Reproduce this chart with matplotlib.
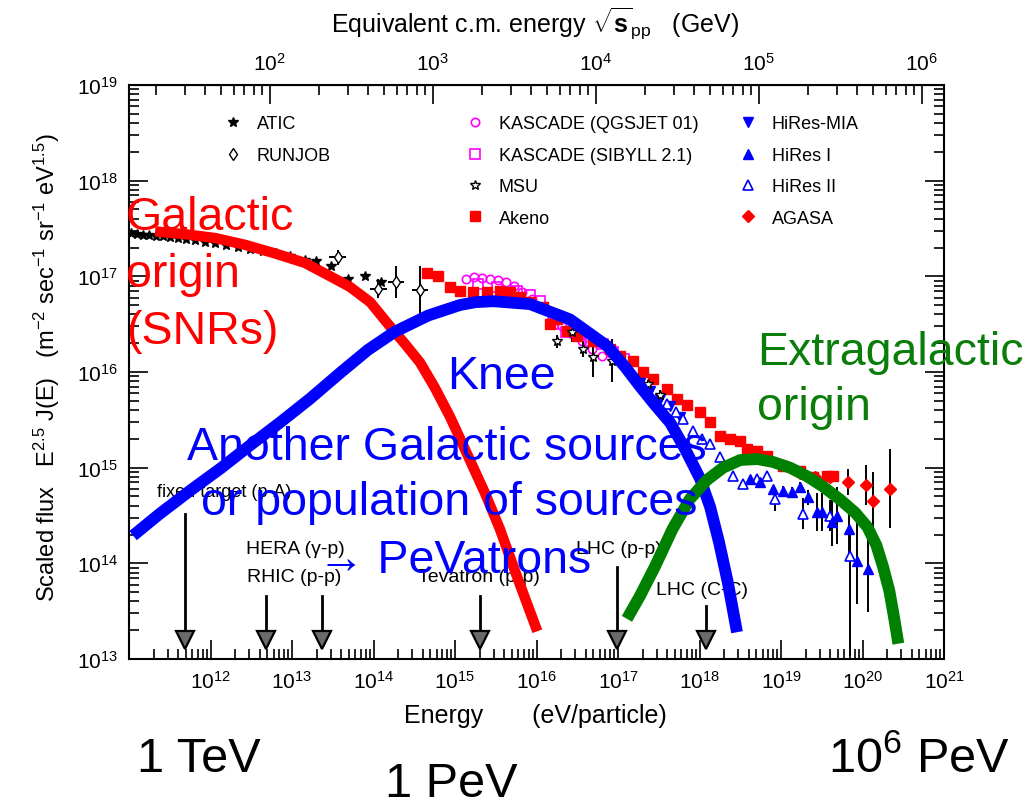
import numpy as np
import matplotlib
matplotlib.use("Agg")
import matplotlib.pyplot as plt
from matplotlib.ticker import LogLocator, NullFormatter, LogFormatterMathtext, FuncFormatter

plt.rcParams['font.family'] = ['Liberation Sans', 'DejaVu Sans']
plt.rcParams['mathtext.fontset'] = 'custom'
plt.rcParams['mathtext.rm'] = 'Liberation Sans'
plt.rcParams['mathtext.it'] = 'Liberation Sans:italic'
plt.rcParams['mathtext.bf'] = 'Liberation Sans:bold'

# Values: log10(E / eV) and log10(E^2.5 J(E))
atic_logE = [11.02, 11.10, 11.17, 11.25, 11.33, 11.42, 11.50, 11.60, 11.70, 11.81, 11.93, 12.06,
             12.19, 12.34, 12.48, 12.64, 12.80, 12.98, 13.16, 13.29, 13.48, 13.69, 13.90, 14.09]
atic_logF = [17.45, 17.44, 17.43, 17.43, 17.42, 17.42, 17.41, 17.40, 17.39, 17.38, 17.36, 17.35,
             17.33, 17.31, 17.29, 17.27, 17.24, 17.21, 17.17, 17.16, 17.11, 16.97, 17.00, 16.94]

runjob_logE = [13.56, 14.06, 14.28, 14.57]
runjob_logF = [17.20, 16.87, 16.94, 16.86]
runjob_err = [0.08, 0.10, 0.17, 0.25]

kq_logE = [15.13, 15.23, 15.33, 15.43, 15.53, 15.63, 15.72, 15.82, 15.94, 16.07, 16.19, 16.31,
           16.44, 16.56, 16.68, 16.80]
kq_logF = [16.97, 16.99, 16.98, 16.97, 16.96, 16.94, 16.90, 16.84, 16.76, 16.68, 16.58, 16.48,
           16.40, 16.32, 16.24, 16.17]

ks_logE = [15.28, 15.52, 15.76, 15.92, 16.04, 16.20, 16.36, 16.51, 16.66, 16.82, 16.94, 17.07]
ks_logF = [16.92, 16.89, 16.85, 16.80, 16.74, 16.50, 16.42, 16.38, 16.32, 16.29, 16.21, 16.14]

msu_logE = [16.25, 16.44, 16.57, 16.69, 16.93, 17.18, 17.37, 17.52]
msu_logF = [16.32, 16.42, 16.24, 16.16, 16.12, 15.96, 15.87, 15.76]
msu_err = [0.07, 0.11, 0.08, 0.21, 0.22, 0.05, 0.05, 0.05]

akeno_logE = [14.66, 14.79, 14.94, 15.06, 15.22, 15.39, 15.55, 15.67, 15.80, 15.92, 16.08, 16.17,
              16.25, 16.37, 16.50, 16.69, 16.90, 17.02, 17.18, 17.31, 17.43, 17.60, 17.72, 17.85,
              18.01, 18.13, 18.25, 18.37, 18.50, 18.58, 18.71, 18.83, 19.02, 19.23, 19.39, 19.56,
              19.64]
akeno_logF = [17.03, 17.00, 16.89, 16.85, 16.84, 16.84, 16.85, 16.84, 16.78, 16.73, 16.68, 16.50,
              16.55, 16.43, 16.38, 16.32, 16.24, 16.17, 16.11, 16.00, 15.93, 15.82, 15.72, 15.65,
              15.58, 15.48, 15.33, 15.30, 15.28, 15.20, 15.17, 15.12, 15.02, 14.97, 14.90, 14.91,
              14.91]

mia_logE = [17.27, 17.39, 17.52, 17.64, 17.76]
mia_logF = [15.88, 15.80, 15.72, 15.64, 15.53]

hr1_logE = [18.62, 18.74, 18.90, 19.02, 19.13, 19.23, 19.33, 19.44, 19.50, 19.63, 19.69, 19.83,
            19.93, 20.07]
hr1_logF = [14.88, 14.85, 14.78, 14.76, 14.75, 14.80, 14.69, 14.54, 14.54, 14.43, 14.50, 14.36,
            14.02, 13.94]
hr1_err = [0.03, 0.03, 0.03, 0.05, 0.05, 0.05, 0.08, 0.20, 0.20, 0.25, 0.30, 0.30, 0.45, 0.45]

hr2_logE = [17.60, 17.71, 17.80, 17.92, 18.03, 18.13, 18.25, 18.41, 18.53, 18.71, 18.83, 18.93,
            19.27, 19.60, 19.85]
hr2_logF = [15.67, 15.58, 15.51, 15.38, 15.30, 15.25, 15.11, 14.91, 14.83, 14.88, 14.91, 14.67,
            14.52, 14.50, 14.08]
hr2_err_lo = [0.02, 0.02, 0.02, 0.02, 0.02, 0.02, 0.03, 0.03, 0.03, 0.03, 0.04, 0.12, 0.16, 0.16, 1.05]
hr2_err_hi = [0.02, 0.02, 0.02, 0.02, 0.02, 0.02, 0.03, 0.03, 0.03, 0.03, 0.04, 0.12, 0.16, 0.16, 0.31]

agasa_logE = [19.23, 19.42, 19.60, 19.82, 20.04, 20.13, 20.34]
agasa_logF = [14.94, 14.90, 14.90, 14.85, 14.82, 14.65, 14.78]
agasa_err = [0.03, 0.03, 0.03, 0.14, 0.21, 0.30, 0.41]

# hand drawn components
gal_logE = [11.32, 11.69, 12.06, 12.42, 12.79, 13.16, 13.47, 13.71, 13.96, 14.18, 14.39, 14.57,
            14.75, 14.94, 15.15, 15.37, 15.55, 15.77, 16.01]
gal_logF = [17.47, 17.44, 17.40, 17.33, 17.24, 17.14, 17.00, 16.89, 16.73, 16.50, 16.29, 16.10,
            15.84, 15.53, 15.14, 14.73, 14.36, 13.84, 13.29]

knee_logE = [11.05, 11.38, 11.75, 12.12, 12.48, 12.85, 13.22, 13.59, 13.93, 14.26, 14.67, 15.06,
             15.25, 15.47, 15.92, 16.41, 16.87, 17.09, 17.27, 17.45, 17.64, 17.82, 18.01, 18.13,
             18.24, 18.35, 18.46]
knee_logF = [14.29, 14.52, 14.76, 14.99, 15.23, 15.47, 15.72, 15.99, 16.23, 16.42, 16.59, 16.70,
             16.73, 16.74, 16.71, 16.55, 16.27, 16.05, 15.85, 15.66, 15.47, 15.20, 14.88, 14.59,
             14.22, 13.79, 13.28]

xgal_logE = [17.11, 17.27, 17.45, 17.67, 17.88, 18.09, 18.29, 18.50, 18.71, 18.90, 19.11, 19.32,
             19.52, 19.72, 19.91, 20.06, 20.17, 20.25, 20.33, 20.39, 20.44]
xgal_logF = [13.42, 13.66, 13.96, 14.36, 14.67, 14.87, 15.00, 15.08, 15.09, 15.06, 15.00, 14.91,
             14.80, 14.67, 14.53, 14.38, 14.19, 13.97, 13.71, 13.42, 13.16]

# accelerators
acc_names = ['fixed target (p-A)', 'HERA (\u03b3-p)', 'RHIC (p-p)', 'Tevatron (p-p)', 'LHC (p-p)', 'LHC (C-C)']
acc_logE = [11.69, 12.68, 13.37, 15.31, 16.99, 18.08]
acc_top = [14.52, 13.66, 13.66, 13.66, 13.96, 13.55]


def p(v):
    return 10 ** np.asarray(v, dtype=float)


def yerr(logF, lo, hi=None):
    if hi is None:
        hi = lo
    logF = np.asarray(logF, dtype=float)
    F = 10 ** logF
    return [F - 10 ** (logF - np.asarray(lo)), 10 ** (logF + np.asarray(hi)) - F]


W, H = 1035, 803
fig = plt.figure(figsize=(W / 100, H / 100), dpi=100)
ax = fig.add_axes([129 / W, 1 - 660 / H, 815 / W, 574 / H])
ax.set_xscale('log')
ax.set_yscale('log')

ebar = dict(ls='none', ecolor='black', elinewidth=1.4, capsize=0)

atic, = ax.plot(p(atic_logE), p(atic_logF), '*', color='black', ms=7, label='ATIC')
rj = ax.errorbar(p(runjob_logE), p(runjob_logF), yerr=yerr(runjob_logF, runjob_err),
                 xerr=yerr(runjob_logE, 0.1), marker='d', mfc='white', mec='black', ms=6, **ebar)
kq, = ax.plot(p(kq_logE), p(kq_logF), 'o', mfc='none', mec='#ff00ff', ms=6, mew=1.2)
ks, = ax.plot(p(ks_logE), p(ks_logF), 's', mfc='none', mec='#ff00ff', ms=7, mew=1.2)
msu = ax.errorbar(p(msu_logE), p(msu_logF), yerr=yerr(msu_logF, msu_err), marker='*',
                  mfc='white', mec='black', ms=7, **ebar)
ak, = ax.plot(p(akeno_logE), p(akeno_logF), 's', color='#ff0000', ms=7)
mia, = ax.plot(p(mia_logE), p(mia_logF), 'v', color='#0000ff', ms=7)
hr2 = ax.errorbar(p(hr2_logE), p(hr2_logF), yerr=yerr(hr2_logF, hr2_err_lo, hr2_err_hi), marker='^',
                  mfc='white', mec='#0000ff', ms=7, mew=1.2, **ebar)
hr1 = ax.errorbar(p(hr1_logE), p(hr1_logF), yerr=yerr(hr1_logF, hr1_err), marker='^',
                  color='#0000ff', ms=7, **ebar)
ag = ax.errorbar(p(agasa_logE), p(agasa_logF), yerr=yerr(agasa_logF, agasa_err), marker='D',
                 color='#ff0000', ms=6, **ebar)

# accelerator arrows
for name, e, t in zip(acc_names, acc_logE, acc_top):
    ax.plot([10 ** e, 10 ** e], [10 ** t, 10 ** 13.24], color='black', lw=2)
    ax.plot(10 ** e, 10 ** 13.2, marker='v', ms=13, mfc='#6a6a6a', mec='black', mew=1.6)

ax.text(10 ** 11.34, 10 ** 14.75, acc_names[0], fontsize=13, va='center')
ax.text(10 ** 12.44, 10 ** 14.15, acc_names[1], fontsize=14, va='center')
ax.text(10 ** 12.45, 10 ** 13.86, acc_names[2], fontsize=14, va='center')
ax.text(10 ** 14.55, 10 ** 13.86, acc_names[3], fontsize=14, va='center')
ax.text(10 ** 16.48, 10 ** 14.15, acc_names[4], fontsize=14, va='center')
ax.text(10 ** 17.47, 10 ** 13.73, acc_names[5], fontsize=14, va='center')

# thick component curves
curve_kw = dict(solid_capstyle='butt', solid_joinstyle='round', zorder=5)
ax.plot(p(gal_logE), p(gal_logF), color='#ff0000', lw=7.5, **curve_kw)
ax.plot(p(knee_logE), p(knee_logF), color='#0000ff', lw=8.5, **curve_kw)
ax.plot(p(xgal_logE), p(xgal_logF), color='#008000', lw=8.5, **curve_kw)

ax.set_xlim(1e11, 1e21)
ax.set_ylim(1e13, 1e19)

for axis in (ax.xaxis, ax.yaxis):
    axis.set_major_locator(LogLocator(base=10, numticks=30))
    axis.set_minor_locator(LogLocator(base=10, subs=np.arange(2, 10), numticks=300))
    axis.set_minor_formatter(NullFormatter())

base_fmt = LogFormatterMathtext()
ax.xaxis.set_major_formatter(FuncFormatter(lambda v, pos: '' if v < 5e11 else base_fmt(v, pos)))

ax.tick_params(which='both', direction='in', top=False, right=True, labelsize=15, width=1.2)
ax.tick_params(which='major', length=14, pad=8)
ax.tick_params(which='minor', length=7)
for s in ax.spines.values():
    s.set_linewidth(1.5)

# equivalent centre-of-mass energy on top
m_p = 0.938


def e_to_sqrts(E):
    return np.sqrt(2 * m_p * np.clip(E, 1e-30, None) / 1e9)


def sqrts_to_e(s):
    return np.asarray(s) ** 2 / (2 * m_p) * 1e9


sec = ax.secondary_xaxis('top', functions=(e_to_sqrts, sqrts_to_e))
sec.xaxis.set_major_locator(LogLocator(base=10, numticks=30))
sec.xaxis.set_minor_locator(LogLocator(base=10, subs=np.arange(2, 10), numticks=300))
sec.xaxis.set_minor_formatter(NullFormatter())
sec.tick_params(which='both', direction='in', labelsize=15, width=1.2)
sec.tick_params(which='major', length=14, pad=8)
sec.tick_params(which='minor', length=7)

# legends
leg_kw = dict(frameon=False, fontsize=13, handlelength=1.0, handletextpad=0.8,
              labelspacing=0.8, borderaxespad=0, loc='upper left', borderpad=0)
leg1 = ax.legend([atic, rj[0]], ['ATIC', 'RUNJOB'], bbox_to_anchor=(0.117, 0.947), **leg_kw)
ax.add_artist(leg1)
leg2 = ax.legend([kq, ks, msu[0], ak], ['KASCADE (QGSJET 01)', 'KASCADE (SIBYLL 2.1)', 'MSU', 'Akeno'],
                 bbox_to_anchor=(0.414, 0.947), **leg_kw)
ax.add_artist(leg2)
ax.legend([mia, hr1[0], hr2[0], ag[0]], ['HiRes-MIA', 'HiRes I', 'HiRes II', 'AGASA'],
          bbox_to_anchor=(0.749, 0.947), **leg_kw)


def px(x, y):
    return x / W, 1 - y / H


# axis titles
fig.text(*px(535, 33), r'Equivalent c.m. energy $\mathbf{\sqrt{s}}_{\rm pp}$   (GeV)',
         fontsize=18, ha='center', va='baseline')
fig.text(*px(535, 723), 'Energy       (eV/particle)', fontsize=18, ha='center', va='baseline')
fig.text(*px(47, 368), r'Scaled flux   E$^{2.5}$ J(E)   (m$^{-2}$ sec$^{-1}$ sr$^{-1}$ eV$^{1.5}$)',
         fontsize=17, rotation=90, ha='center', va='center')

# overlay annotations
red, blue, green = '#ff0000', '#0000ff', '#0a7d0a'
big = 33.5
fig.text(*px(126, 230), 'Galactic', color=red, fontsize=big, va='baseline', zorder=10)
fig.text(*px(126, 287), 'origin', color=red, fontsize=big, va='baseline', zorder=10)
fig.text(*px(126, 344), '(SNRs)', color=red, fontsize=big, va='baseline', zorder=10)
fig.text(*px(447, 389), 'Knee', color=blue, fontsize=big, va='baseline', zorder=10)
fig.text(*px(447, 460), 'Another Galactic sources', color=blue, fontsize=big, ha='center',
         va='baseline', zorder=10)
fig.text(*px(449, 515), 'or population of sources', color=blue, fontsize=big, ha='center',
         va='baseline', zorder=10)
fig.text(*px(455, 573), '\u2192 PeVatrons', color=blue, fontsize=big, ha='center',
         va='baseline', zorder=10)
fig.text(*px(757, 365), 'Extragalactic', color=green, fontsize=big, va='baseline', zorder=10)
fig.text(*px(757, 420), 'origin', color=green, fontsize=big, va='baseline', zorder=10)

fig.text(*px(137, 772), '1 TeV', fontsize=35, va='baseline')
fig.text(*px(385, 797), '1 PeV', fontsize=35, va='baseline')
fig.text(*px(828, 772), r'10$^{6}$ PeV', fontsize=35, va='baseline')

fig.savefig('out.png', dpi=100)
